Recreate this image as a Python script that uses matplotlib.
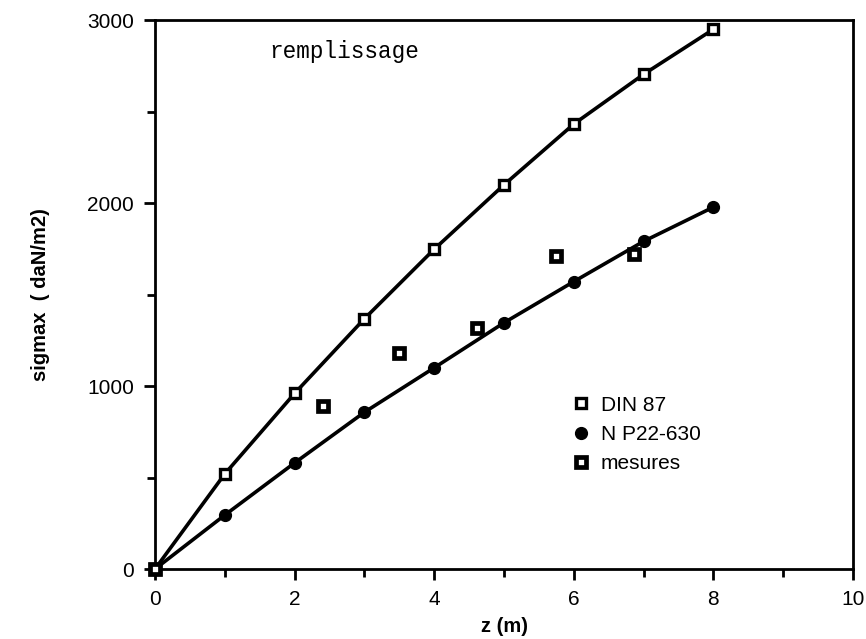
import numpy as np
import matplotlib
matplotlib.use("Agg")
import matplotlib.pyplot as plt
from matplotlib.ticker import MultipleLocator

# values
z_din = [0, 1, 2, 3, 4, 5, 6, 7, 8]
sig_din = [0, 520, 960, 1368, 1748, 2100, 2432, 2704, 2950]

z_np = [0, 1, 2, 3, 4, 5, 6, 7, 8]
sig_np = [0, 295, 580, 857, 1100, 1346, 1571, 1791, 1978]

z_mes = [0, 2.4, 3.5, 4.61, 5.74, 6.86]
sig_mes = [0, 890, 1182, 1319, 1709, 1720]

plt.rcParams['font.family'] = ['Liberation Sans', 'DejaVu Sans']

fig = plt.figure(figsize=(8.66, 6.39), dpi=100)
ax = fig.add_axes([0.179, 0.1095, 0.806, 0.859])

# curves
ax.plot(z_din, sig_din, color='black', lw=2.6, zorder=2)
ax.plot(z_np, sig_np, color='black', lw=2.6, zorder=2)

# markers
ax.plot(z_din, sig_din, ls='none', marker='s', ms=7.0, mfc='white', mec='black',
        mew=2.4, label='DIN 87', zorder=3, clip_on=False)
ax.plot(z_np, sig_np, ls='none', marker='o', ms=8.5, mfc='black', mec='black',
        label='N P22-630', zorder=3, clip_on=False)
ax.plot(z_mes, sig_mes, ls='none', marker='s', ms=6.8, mfc='white', mec='black',
        mew=3.4, label='mesures', zorder=4, clip_on=False)

ax.set_xlim(0, 10)
ax.set_ylim(0, 3000)
ax.xaxis.set_major_locator(MultipleLocator(2))
ax.xaxis.set_minor_locator(MultipleLocator(1))
ax.yaxis.set_major_locator(MultipleLocator(1000))
ax.yaxis.set_minor_locator(MultipleLocator(500))
ax.tick_params(which='major', direction='out', length=8, width=2, labelsize=15)
ax.tick_params(which='minor', direction='out', length=6, width=2)
ax.tick_params(axis='x', pad=7)
ax.tick_params(axis='y', pad=7)
for s in ax.spines.values():
    s.set_linewidth(2)

ax.set_xlabel('z (m)', fontsize=14.5, fontweight='bold', labelpad=6)
ax.set_ylabel('sigmax  ( daN/m2)', fontsize=14.5, fontweight='bold', labelpad=27)

ax.text(1.64, 2830, 'remplissage', family='Liberation Mono', fontsize=16.3,
        va='center', ha='left')

leg = ax.legend(loc='upper left', bbox_to_anchor=(0.595, 0.316), frameon=False,
                fontsize=15, handlelength=1.0, handletextpad=0.45,
                labelspacing=0.5, borderpad=0, borderaxespad=0)

fig.savefig('out.png', dpi=100)
